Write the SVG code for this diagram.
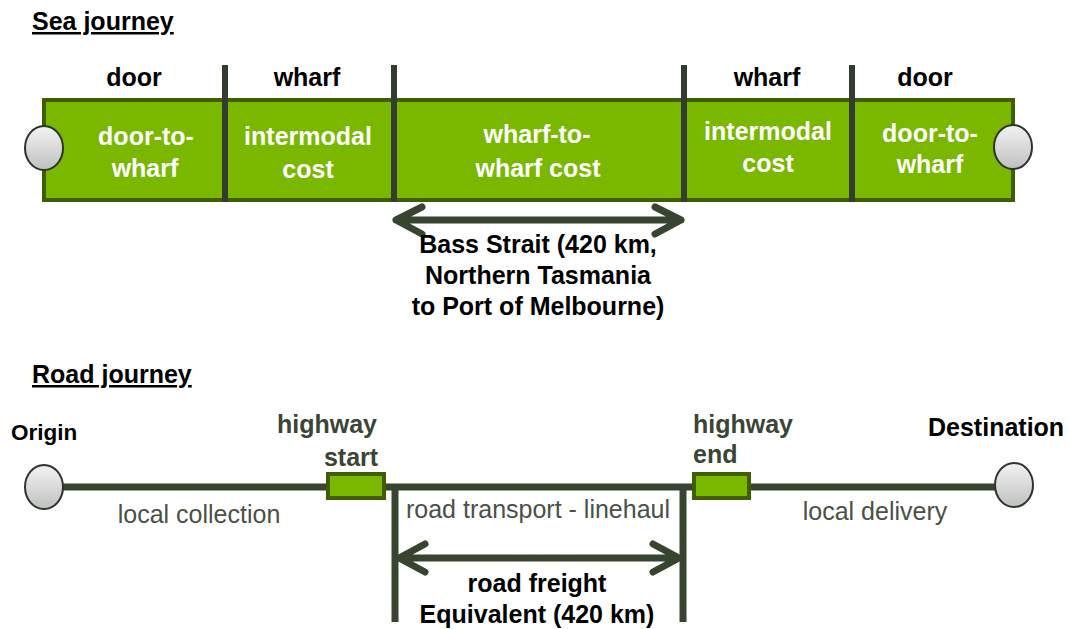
<svg xmlns="http://www.w3.org/2000/svg" width="1070" height="629" viewBox="0 0 1070 629">
<defs>
<linearGradient id="gray" x1="0" y1="0" x2="0" y2="1">
<stop offset="0" stop-color="#f2f2f2"/>
<stop offset="1" stop-color="#bfc1bf"/>
</linearGradient>
<style>
text{font-family:"Liberation Sans",Arial,sans-serif}
.title{font-size:25px;font-weight:bold;fill:#000;text-decoration:underline}
.hdr{font-size:25px;font-weight:bold;fill:#000;text-anchor:middle}
.wt{font-size:25px;font-weight:bold;fill:#fff;text-anchor:middle}
.bk{font-size:25px;font-weight:bold;fill:#000;text-anchor:middle}
.hw{font-size:25px;font-weight:bold;fill:#3a4535}
.lt{font-size:25px;fill:#4a5048;text-anchor:middle}
.circ{fill:url(#gray);stroke:#2e342c;stroke-width:2}
.bar{fill:#7ab800;stroke:#3f5e00;stroke-width:4}
.div{stroke:#333d2f;stroke-width:6}
.line{stroke:#374530;stroke-width:7;fill:none}
.arr{stroke:#374530;stroke-width:7;fill:none;stroke-linecap:round;stroke-linejoin:round}
</style>
</defs>
<rect width="1070" height="629" fill="#fff"/>
<text class="title" x="32" y="30">Sea journey</text>
<text class="title" x="32" y="383">Road journey</text>

<g id="sea-bar">
<rect class="bar" x="44" y="100" width="969" height="100"/>
</g>
<g id="dividers">
<line class="div" x1="225" y1="65" x2="225" y2="202"/>
<line class="div" x1="394" y1="65" x2="394" y2="202"/>
<line class="div" x1="684" y1="65" x2="684" y2="202"/>
<line class="div" x1="852" y1="65" x2="852" y2="202"/>
</g>
<g id="seg-door-left">
<text class="hdr" x="134" y="86">door</text>
<text class="wt" x="146" y="145">door-to-</text>
<text class="wt" x="145" y="177">wharf</text>
</g>
<g id="seg-wharf-left">
<text class="hdr" x="307" y="86">wharf</text>
<text class="wt" x="308" y="145">intermodal</text>
<text class="wt" x="308" y="178">cost</text>
</g>
<g id="seg-w2w">
<text class="wt" x="537" y="143">wharf-to-</text>
<text class="wt" x="538" y="177">wharf cost</text>
</g>
<g id="seg-wharf-right">
<text class="hdr" x="767" y="86">wharf</text>
<text class="wt" x="768" y="140">intermodal</text>
<text class="wt" x="768" y="172">cost</text>
</g>
<g id="seg-door-right">
<text class="hdr" x="925" y="86">door</text>
<text class="wt" x="930" y="142">door-to-</text>
<text class="wt" x="930" y="173">wharf</text>
</g>
<g id="sea-left-end"><ellipse class="circ" cx="44" cy="148" rx="19" ry="22"/></g>
<g id="sea-right-end"><ellipse class="circ" cx="1013" cy="147" rx="19" ry="22"/></g>

<g id="connectors">
<line class="line" x1="44" y1="487" x2="1013" y2="487"/>
<line class="line" x1="395" y1="487" x2="395" y2="622"/>
<line class="line" x1="683" y1="487" x2="683" y2="622"/>
<path class="arr" d="M396 220H681M422 207L396 220L422 234M655 207L681 220L655 234"/>
<path class="arr" d="M399 558H679M425 544L399 558L425 572M653 544L679 558L653 572"/>
</g>

<g id="bass-label">
<text class="bk" x="538" y="253">Bass Strait (420 km,</text>
<text class="bk" x="538" y="284">Northern Tasmania</text>
<text class="bk" x="538" y="315">to Port of Melbourne)</text>
</g>

<g id="origin">
<text x="11" y="440" style="font-size:22.5px;font-weight:bold;fill:#000">Origin</text>
<ellipse class="circ" cx="44" cy="487" rx="19" ry="22"/>
</g>
<g id="destination">
<text x="928" y="436" style="font-size:25px;font-weight:bold;fill:#000">Destination</text>
<ellipse class="circ" cx="1014" cy="485" rx="19" ry="22"/>
</g>
<g id="highway-start">
<rect class="bar" x="328" y="474" width="56" height="24"/>
<text class="hw" x="327" y="433" text-anchor="middle">highway</text>
<text class="hw" x="351" y="466" text-anchor="middle">start</text>
</g>
<g id="highway-end">
<rect class="bar" x="694" y="474" width="55" height="24"/>
<text class="hw" x="693" y="433">highway</text>
<text class="hw" x="693" y="463">end</text>
</g>
<g id="road-labels">
<text class="lt" x="199" y="523">local collection</text>
<text class="lt" x="538" y="518">road transport - linehaul</text>
<text class="lt" x="875" y="520">local delivery</text>
<text class="bk" x="537" y="592">road freight</text>
<text class="bk" x="537" y="623">Equivalent (420 km)</text>
</g>
</svg>
